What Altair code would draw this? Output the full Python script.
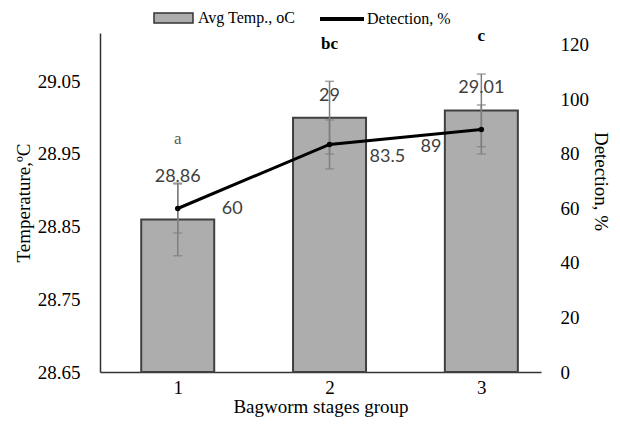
import altair as alt
import pandas as pd

# ---- data ----
stages = [1, 2, 3]
avg_temp = [28.86, 29.00, 29.01]
temp_err = [0.05, 0.05, 0.05]
detection = [60, 83.5, 89]
det_err = [9, 9, 9]
letters = ["a", "bc", "c"]
temp_ticks = [28.65, 28.7, 28.75, 28.8, 28.85, 28.9, 28.95, 29.0, 29.05, 29.1]
det_ticks = [0, 20, 40, 60, 80, 100, 120]
stage_ticks = [1, 2, 3]
series_names = ["Avg Temp., oC", "Detection, %"]

df = pd.DataFrame({
    "stage": stages,
    "temp": avg_temp,
    "terr": temp_err,
    "det": detection,
    "derr": det_err,
    "letter": letters,
})
df["t_lo"] = df["temp"] - df["terr"]
df["t_hi"] = df["temp"] + df["terr"]
df["d_lo"] = df["det"] - df["derr"]
df["d_hi"] = df["det"] + df["derr"]
df["s_temp"] = series_names[0]
df["s_det"] = series_names[1]

SERIF = "Liberation Serif"
SANS = "Lato"
ERR = "#7f7f7f"

base = alt.Chart(df)
xaxis = alt.Axis(
    values=stage_ticks, format="d", title="Bagworm stages group",
    grid=False, ticks=False, domainColor="#333", domainWidth=1.5,
    labelFont=SERIF, labelFontSize=19, labelColor="black", labelPadding=6,
    titleFont=SERIF, titleFontSize=19, titleFontWeight="normal",
    titleColor="black", titlePadding=0,
)
xscale = alt.Scale(domain=[0.521, 3.36], nice=False, zero=False)


def X():
    return alt.X("stage:Q", scale=xscale, axis=xaxis)


tscale = alt.Scale(domain=[28.65, 29.1165], nice=False, zero=False)
dscale = alt.Scale(domain=[0, 124.4], nice=False, zero=True)

left_axis = alt.Axis(
    values=temp_ticks, format="~g", title="Temperature,ºC", grid=False,
    ticks=False, domainColor="#333", domainWidth=1.5,
    labelFont=SERIF, labelFontSize=19, labelColor="black", labelPadding=20,
    titleFont=SERIF, titleFontSize=19, titleFontWeight="normal",
    titleColor="black", titlePadding=4,
)
right_axis = alt.Axis(
    values=det_ticks, format="d", title="Detection, %", orient="right",
    grid=False, ticks=False, domain=False,
    labelFont=SERIF, labelFontSize=19, labelColor="black", labelPadding=19,
    titleFont=SERIF, titleFontSize=19, titleFontWeight="normal",
    titleColor="black", titlePadding=2, titleY=148,
)


def TY(field, axis=False):
    if axis:
        return alt.Y(field, scale=tscale, axis=left_axis)
    return alt.Y(field, scale=tscale)


def DY(field, axis=False):
    if axis:
        return alt.Y(field, scale=dscale, axis=right_axis)
    return alt.Y(field, scale=dscale)


bars = base.mark_bar(size=73, stroke="#404040", strokeWidth=2).encode(
    x=X(),
    y=TY("temp:Q", axis=True),
    y2=alt.Y2(datum=28.65),
    fill=alt.Fill(
        "s_temp:N",
        scale=alt.Scale(domain=[series_names[0]], range=["#adadad"]),
        legend=alt.Legend(
            orient="none", legendX=53, legendY=-35.5, title=None, padding=0,
            symbolType="M-1,-0.256L1,-0.256L1,0.256L-1,0.256Z",
            symbolSize=1521, symbolStrokeColor="#333", symbolStrokeWidth=1.5,
            symbolOpacity=1,
            labelFont=SERIF, labelFontSize=16, labelColor="black",
            labelOffset=4,
        ),
    ),
)

t_rule = base.mark_rule(color=ERR, strokeWidth=1.5).encode(
    x=X(), y=TY("t_lo:Q"), y2="t_hi:Q")
t_cap_lo = base.mark_tick(color=ERR, orient="horizontal", size=9, thickness=1.5).encode(
    x=X(), y=TY("t_lo:Q"))
t_cap_hi = base.mark_tick(color=ERR, orient="horizontal", size=9, thickness=1.5).encode(
    x=X(), y=TY("t_hi:Q"))


def temp_label(stage, dy):
    return base.transform_filter(alt.datum.stage == stage).mark_text(
        font=SANS, fontSize=18, color="#404040", dy=dy, baseline="middle"
    ).encode(
        x=X(),
        y=TY("temp:Q"),
        text=alt.Text("temp:Q", format="~g"),
    )


letter_a = base.transform_filter(alt.datum.stage == 1).mark_text(
    font=SERIF, fontSize=17, color="#595959", dy=-80, baseline="middle"
).encode(x=X(), y=TY("temp:Q"), text="letter:N")
letter_bc = base.transform_filter(alt.datum.stage > 1).mark_text(
    font=SERIF, fontSize=17, fontWeight="bold", color="black", dy=-74, baseline="middle"
).encode(x=X(), y=TY("temp:Q"), text="letter:N")

left_layer = alt.layer(
    bars, t_rule, t_cap_lo, t_cap_hi,
    temp_label(1, -42), temp_label(2, -22), temp_label(3, -22),
    letter_a, letter_bc,
)

line = base.mark_line(strokeWidth=3).encode(
    x=X(),
    y=DY("det:Q", axis=True),
    stroke=alt.Stroke(
        "s_det:N",
        scale=alt.Scale(domain=[series_names[1]], range=["black"]),
        legend=alt.Legend(
            orient="none", legendX=218, legendY=-38, title=None, padding=0,
            symbolType="stroke", symbolSize=1936, symbolStrokeWidth=4,
            labelFont=SERIF, labelFontSize=16, labelColor="black",
            labelOffset=1,
        ),
    ),
)
pts = base.mark_point(filled=True, color="black", size=30, opacity=1).encode(
    x=X(), y=DY("det:Q"))
d_rule = base.mark_rule(color=ERR, strokeWidth=1.5).encode(
    x=X(), y=DY("d_lo:Q"), y2="d_hi:Q")
d_cap_lo = base.mark_tick(color=ERR, orient="horizontal", size=9, thickness=1.5).encode(
    x=X(), y=DY("d_lo:Q"))
d_cap_hi = base.mark_tick(color=ERR, orient="horizontal", size=9, thickness=1.5).encode(
    x=X(), y=DY("d_hi:Q"))


def det_label(stage, dx, dy, align):
    return base.transform_filter(alt.datum.stage == stage).mark_text(
        font=SANS, fontSize=18, color="#404040", dx=dx, dy=dy,
        align=align, baseline="middle",
    ).encode(
        x=X(),
        y=DY("det:Q"),
        text=alt.Text("det:Q", format="~g"),
    )


right_layer = alt.layer(
    line, d_rule, d_cap_lo, d_cap_hi, pts,
    det_label(1, 44, 1, "left"), det_label(2, 40, 13, "left"),
    det_label(3, -40, 18, "right"),
)

chart = alt.layer(left_layer, right_layer).resolve_scale(
    y="independent"
).properties(
    width=441, height=339,
    autosize=alt.AutoSizeParams(type="none"),
    padding={"left": 92, "top": 25, "right": 71, "bottom": 46},
).configure_view(stroke=None).configure_axis(
    grid=False, labelFont=SERIF, titleFont=SERIF
)

chart.save("out.html", embed_options={"renderer": "svg", "actions": False})
